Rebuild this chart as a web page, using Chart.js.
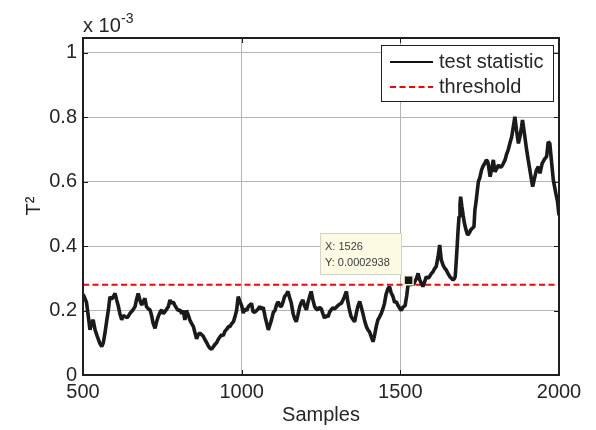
<!DOCTYPE html>
<html>
<head>
<meta charset="utf-8">
<script src="https://cdn.jsdelivr.net/npm/chart.js@4/dist/chart.umd.min.js"></script>
<style>
  html, body { margin: 0; padding: 0; background: #ffffff; }
  #wrap { width: 596px; height: 430px; position: relative; }
</style>
</head>
<body>
<div id="wrap"><canvas id="c" width="596" height="430"></canvas></div>
<script>
// Sample index of each reading of the monitoring statistic
const sampleIdx = [
  500, 505, 511, 517, 522, 527, 532, 538, 545, 553, 559, 564, 569, 575, 580, 585, 590, 596, 601, 606,
  611, 616, 622, 627, 632, 640, 648, 656, 664, 669, 674, 680, 685, 690, 695, 700, 706, 711, 716, 721,
  727, 732, 737, 743, 748, 753, 758, 764, 769, 774, 779, 784, 790, 795, 800, 806, 811, 816, 821, 826,
  832, 837, 842, 848, 853, 858, 863, 868, 874, 879, 884, 890, 895, 900, 905, 911, 916, 921, 926, 932,
  937, 942, 947, 953, 958, 963, 969, 974, 979, 984, 989, 994, 1000, 1005, 1010, 1016, 1021, 1026, 1031, 1036,
  1041, 1047, 1052, 1057, 1063, 1068, 1074, 1079, 1084, 1089, 1094, 1100, 1105, 1110, 1115, 1120, 1125, 1130, 1135, 1141,
  1146, 1151, 1156, 1162, 1167, 1172, 1177, 1183, 1188, 1193, 1198, 1204, 1209, 1214, 1219, 1224, 1230, 1235, 1240, 1245,
  1251, 1256, 1261, 1266, 1272, 1277, 1282, 1287, 1293, 1298, 1303, 1309, 1314, 1319, 1324, 1330, 1335, 1340, 1345, 1351,
  1356, 1361, 1366, 1372, 1377, 1382, 1387, 1393, 1398, 1403, 1408, 1414, 1419, 1424, 1429, 1435, 1440, 1445, 1450, 1455,
  1461, 1466, 1471, 1477, 1482, 1487, 1493, 1498, 1503, 1508, 1515, 1520, 1526, 1531, 1536, 1541, 1546, 1551, 1556, 1561,
  1566, 1571, 1577, 1582, 1587, 1592, 1598, 1603, 1608, 1613, 1619, 1624, 1629, 1635, 1640, 1645, 1650, 1656, 1661, 1666,
  1670, 1673, 1676, 1679, 1682, 1685, 1688, 1690, 1694, 1698, 1702, 1707, 1712, 1717, 1722, 1727, 1732, 1735, 1739, 1743,
  1746, 1750, 1756, 1761, 1766, 1771, 1776, 1783, 1788, 1793, 1798, 1804, 1809, 1814, 1819, 1824, 1830, 1835, 1840, 1845,
  1851, 1856, 1861, 1866, 1872, 1877, 1882, 1885, 1891, 1898, 1903, 1910, 1917, 1924, 1929, 1935, 1940, 1947, 1955, 1961,
  1966, 1971, 1977, 1982, 1990, 1995, 2000
];

// T^2 test statistic, in units of 10^-3
const tSquared = [
  0.250, 0.240, 0.225, 0.180, 0.140, 0.160, 0.171, 0.140, 0.120, 0.098, 0.088, 0.100, 0.129, 0.170, 0.202, 0.243, 0.235, 0.243, 0.253, 0.233,
  0.215, 0.191, 0.171, 0.185, 0.181, 0.178, 0.191, 0.200, 0.212, 0.235, 0.253, 0.230, 0.217, 0.228, 0.238, 0.212, 0.205, 0.202, 0.185, 0.160,
  0.145, 0.165, 0.181, 0.195, 0.202, 0.190, 0.196, 0.205, 0.212, 0.233, 0.222, 0.227, 0.215, 0.207, 0.200, 0.202, 0.190, 0.200, 0.171, 0.200,
  0.185, 0.170, 0.160, 0.150, 0.130, 0.112, 0.125, 0.130, 0.125, 0.120, 0.110, 0.100, 0.090, 0.083, 0.080, 0.088, 0.095, 0.100, 0.110, 0.119,
  0.125, 0.122, 0.135, 0.142, 0.150, 0.150, 0.160, 0.165, 0.181, 0.200, 0.243, 0.230, 0.215, 0.192, 0.205, 0.200, 0.212, 0.217, 0.222, 0.196,
  0.195, 0.200, 0.205, 0.212, 0.205, 0.210, 0.180, 0.160, 0.140, 0.155, 0.171, 0.195, 0.200, 0.218, 0.227, 0.215, 0.212, 0.225, 0.243, 0.250,
  0.259, 0.240, 0.225, 0.191, 0.175, 0.165, 0.185, 0.212, 0.225, 0.233, 0.215, 0.202, 0.225, 0.243, 0.259, 0.235, 0.212, 0.205, 0.202, 0.210,
  0.205, 0.190, 0.176, 0.185, 0.180, 0.195, 0.202, 0.208, 0.205, 0.210, 0.215, 0.220, 0.222, 0.232, 0.243, 0.259, 0.225, 0.200, 0.181, 0.172,
  0.165, 0.190, 0.212, 0.228, 0.210, 0.191, 0.170, 0.150, 0.140, 0.134, 0.120, 0.103, 0.124, 0.150, 0.170, 0.181, 0.191, 0.205, 0.222, 0.250,
  0.268, 0.274, 0.255, 0.243, 0.225, 0.228, 0.215, 0.207, 0.200, 0.210, 0.215, 0.245, 0.2938, 0.278, 0.284, 0.280, 0.290, 0.300, 0.315, 0.295,
  0.285, 0.274, 0.290, 0.305, 0.300, 0.305, 0.315, 0.320, 0.330, 0.336, 0.367, 0.403, 0.357, 0.340, 0.331, 0.325, 0.315, 0.305, 0.300, 0.295,
  0.298, 0.305, 0.350, 0.398, 0.450, 0.491, 0.530, 0.553, 0.522, 0.495, 0.470, 0.450, 0.434, 0.440, 0.450, 0.455, 0.460, 0.512, 0.540, 0.575,
  0.600, 0.610, 0.636, 0.648, 0.656, 0.667, 0.660, 0.615, 0.640, 0.667, 0.630, 0.640, 0.651, 0.645, 0.646, 0.655, 0.667, 0.685, 0.698, 0.718,
  0.739, 0.770, 0.801, 0.760, 0.718, 0.739, 0.770, 0.791, 0.749, 0.698, 0.667, 0.625, 0.584, 0.615, 0.636, 0.646, 0.625, 0.656, 0.670, 0.677,
  0.723, 0.718, 0.656, 0.605, 0.563, 0.540, 0.495
];

// Control limit, same units
const thresholdLevel = 0.28;

const xTickValues = [500, 1000, 1500, 2000];
const yTickValues = [0, 0.2, 0.4, 0.6, 0.8, 1];
const legendLabels = ['test statistic', 'threshold'];

// Data cursor pinned on one sample
const cursorSample = 1526;
const cursorValue = 0.2938;

const FONT = "'Liberation Sans', Arial, Helvetica, sans-serif";
const TEXT = '#262626';

const seriesPoints = sampleIdx.map((s, i) => ({ x: s, y: tSquared[i] }));
const thresholdPoints = [
  { x: xTickValues[0], y: thresholdLevel },
  { x: xTickValues[xTickValues.length - 1], y: thresholdLevel }
];

// Frame, inward tick marks, axis titles, legend and data cursor
const decorations = {
  id: 'decorations',
  afterDraw(chart) {
    const ctx = chart.ctx;
    const a = chart.chartArea;
    const xs = chart.scales.x, ys = chart.scales.y;
    ctx.save();

    // inward ticks
    ctx.strokeStyle = '#1a1a1a';
    ctx.lineWidth = 1;
    ctx.beginPath();
    yTickValues.forEach(v => {
      const py = Math.round(ys.getPixelForValue(v)) + 0.5;
      ctx.moveTo(a.left, py); ctx.lineTo(a.left + 5, py);
      ctx.moveTo(a.right, py); ctx.lineTo(a.right - 5, py);
    });
    xTickValues.forEach(v => {
      const px = Math.round(xs.getPixelForValue(v)) + 0.5;
      ctx.moveTo(px, a.bottom); ctx.lineTo(px, a.bottom - 5);
      ctx.moveTo(px, a.top); ctx.lineTo(px, a.top + 5);
    });
    ctx.stroke();

    // axes box
    ctx.lineWidth = 2;
    ctx.strokeStyle = '#1f1f1f';
    ctx.strokeRect(a.left, a.top, a.right - a.left, a.bottom - a.top);

    // axis titles
    ctx.fillStyle = TEXT;
    ctx.font = '20px ' + FONT;
    ctx.textAlign = 'center';
    ctx.textBaseline = 'alphabetic';
    ctx.fillText('Samples', (a.left + a.right) / 2, 421);

    ctx.save();
    ctx.translate(40, 206);
    ctx.rotate(-Math.PI / 2);
    ctx.fillText('T²', 0, 0);
    ctx.restore();

    // exponent note
    ctx.textAlign = 'left';
    ctx.font = '20px ' + FONT;
    ctx.fillText('x 10', 83, 32);
    ctx.font = '14px ' + FONT;
    ctx.fillText('-3', 121, 23);

    // legend
    const lx = 381.5, ly = 45.5, lw = 172, lh = 56;
    ctx.fillStyle = '#ffffff';
    ctx.fillRect(lx, ly, lw, lh);
    ctx.strokeStyle = '#1f1f1f';
    ctx.lineWidth = 1;
    ctx.strokeRect(lx, ly, lw, lh);
    const rows = [62, 87];
    ctx.lineWidth = 2;
    ctx.strokeStyle = '#111111';
    ctx.setLineDash([]);
    ctx.beginPath(); ctx.moveTo(390, rows[0]); ctx.lineTo(433, rows[0]); ctx.stroke();
    ctx.strokeStyle = '#ff0000';
    ctx.setLineDash([6, 3.5]);
    ctx.beginPath(); ctx.moveTo(390, rows[1]); ctx.lineTo(433, rows[1]); ctx.stroke();
    ctx.setLineDash([]);
    ctx.fillStyle = TEXT;
    ctx.font = '20px ' + FONT;
    ctx.textBaseline = 'middle';
    ctx.fillText(legendLabels[0], 439, rows[0]);
    ctx.fillText(legendLabels[1], 439, rows[1]);

    // data cursor
    const mx = xs.getPixelForValue(cursorSample);
    const my = ys.getPixelForValue(cursorValue);
    const bx = 320.5, by = 233.5, bw = 81, bh = 41;
    ctx.fillStyle = '#fbfbe3';
    ctx.fillRect(bx, by, bw, bh);
    ctx.strokeStyle = '#d4d4c4';
    ctx.lineWidth = 1;
    ctx.strokeRect(bx, by, bw, bh);
    ctx.fillStyle = '#3a3a3a';
    ctx.font = '11px ' + FONT;
    ctx.textBaseline = 'middle';
    ctx.fillText('X: ' + cursorSample, 325, 247);
    ctx.fillText('Y: ' + (cursorValue * 1e-3).toFixed(7), 325, 263);

    ctx.fillStyle = '#151515';
    ctx.fillRect(mx - 4.5, my - 4.5, 9, 9);
    ctx.strokeStyle = '#f5f5d0';
    ctx.lineWidth = 1.5;
    ctx.strokeRect(mx - 4.5, my - 4.5, 9, 9);

    ctx.restore();
  }
};

new Chart(document.getElementById('c'), {
  type: 'line',
  data: {
    datasets: [
      {
        label: legendLabels[0],
        data: seriesPoints,
        borderColor: '#1a1a1a',
        borderWidth: 3.6,
        pointRadius: 0,
        tension: 0,
        borderJoinStyle: 'bevel'
      },
      {
        label: legendLabels[1],
        data: thresholdPoints,
        borderColor: '#ff0000',
        borderWidth: 2,
        borderDash: [6, 3.5],
        pointRadius: 0,
        tension: 0
      }
    ]
  },
  options: {
    responsive: false,
    animation: false,
    devicePixelRatio: 1,
    layout: { padding: { left: 0, top: 38, right: 37, bottom: 0 } },
    plugins: { legend: { display: false }, tooltip: { enabled: false }, title: { display: false } },
    scales: {
      x: {
        type: 'linear',
        min: 500,
        max: 2000,
        afterBuildTicks(scale) { scale.ticks = xTickValues.map(v => ({ value: v })); },
        afterFit(scale) { scale.height = 55; },
        ticks: {
          color: TEXT,
          font: { family: FONT, size: 20 },
          padding: 5,
          maxRotation: 0,
          callback: v => String(v)
        },
        grid: { color: '#b4b4b4', lineWidth: 1, drawTicks: false },
        border: { display: false }
      },
      y: {
        type: 'linear',
        min: 0,
        max: 1.045,
        afterBuildTicks(scale) { scale.ticks = yTickValues.map(v => ({ value: v })); },
        afterFit(scale) { scale.width = 83; },
        ticks: {
          color: TEXT,
          font: { family: FONT, size: 20 },
          padding: 6,
          callback: v => String(Math.round(v * 10) / 10)
        },
        grid: { color: '#b4b4b4', lineWidth: 1, drawTicks: false },
        border: { display: false }
      }
    }
  },
  plugins: [decorations]
});
</script>
</body>
</html>
